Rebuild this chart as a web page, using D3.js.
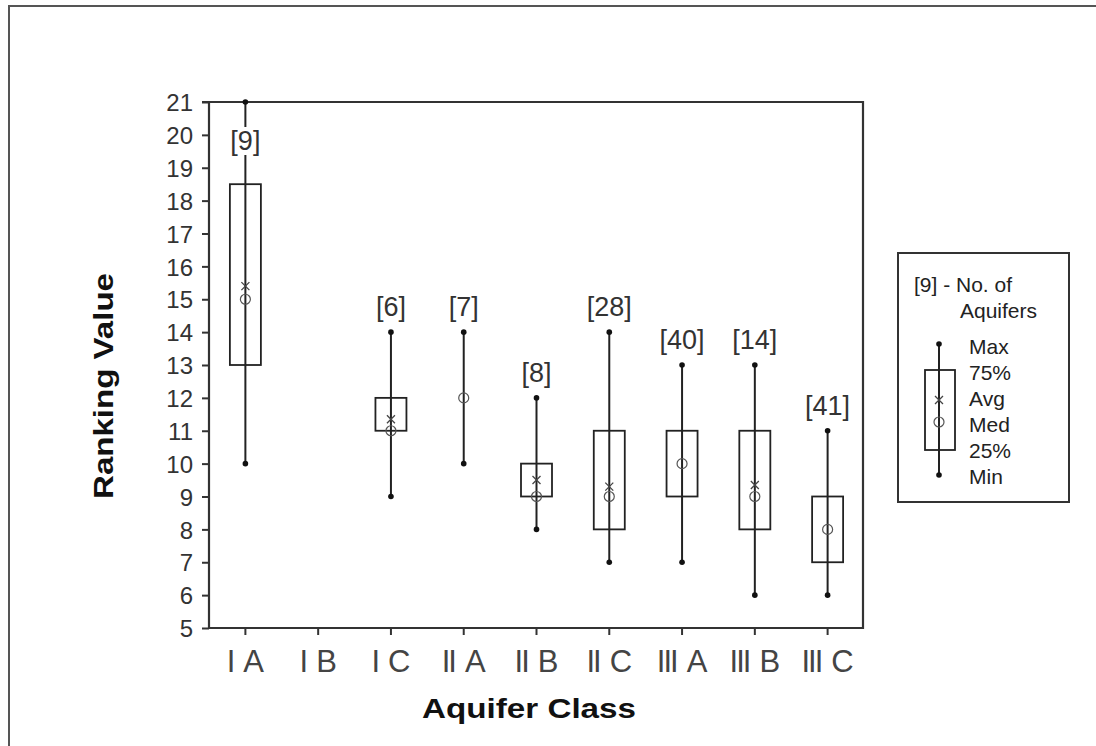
<!DOCTYPE html>
<html>
<head>
<meta charset="utf-8">
<script src="https://cdn.jsdelivr.net/npm/d3@7"></script>
<style>
  body { margin: 0; background: #fff; }
  text { font-family: "Liberation Sans", Arial, sans-serif; }
</style>
</head>
<body>
<div id="chart"></div>
<script>
// data
var classes = ["I A", "I B", "I C", "II A", "II B", "II C", "III A", "III B", "III C"];
var counts  = [9, null, 6, 7, 8, 28, 40, 14, 41];
var mins    = [10, null, 9, 10, 8, 7, 7, 6, 6];
var q1s     = [13, null, 11, 12, 9, 8, 9, 8, 7];
var medians = [15, null, 11, 12, 9, 9, 10, 9, 8];
var avgs    = [15.4, null, 11.35, 12, 9.5, 9.3, 10, 9.35, 8];
var q3s     = [18.5, null, 12, 12, 10, 11, 11, 11, 9];
var maxs    = [21, null, 14, 14, 12, 14, 13, 13, 11];
var yTicks  = d3.range(5, 22);
var legendLabels = ["Max", "75%", "Avg", "Med", "25%", "Min"];

var W = 1096, H = 746;
var plot = {left: 209, top: 102, right: 864, bottom: 628};

var svg = d3.select("#chart").append("svg")
    .attr("width", W)
    .attr("height", H);

// outer frame (only top and left visible)
svg.append("rect")
    .attr("x", 9).attr("y", 6)
    .attr("width", W + 20).attr("height", H + 20)
    .attr("fill", "none")
    .attr("stroke", "#555")
    .attr("stroke-width", 2);

var x = d3.scaleBand().domain(classes).range([plot.left, plot.right]);
var y = d3.scaleLinear().domain([5, 21]).range([plot.bottom, plot.top]);

var rows = classes.map(function(c, i) {
  return {cls: c, n: counts[i], min: mins[i], q1: q1s[i], med: medians[i],
          avg: avgs[i], q3: q3s[i], max: maxs[i]};
}).filter(function(d) { return d.n != null; });

// y axis
var yAxis = d3.axisLeft(y).tickValues(yTicks).tickSize(7).tickPadding(9);
var gy = svg.append("g")
    .attr("transform", "translate(" + plot.left + ",0)")
    .call(yAxis);
gy.select(".domain").remove();
gy.selectAll("line").attr("stroke", "#333").attr("stroke-width", 2);
gy.selectAll("text")
    .style("font-size", "24px")
    .attr("fill", "#333")
    .attr("dy", "0.36em");

// x axis
var xAxis = d3.axisBottom(x).tickSize(7).tickPadding(14).tickFormat("");
var gx = svg.append("g")
    .attr("transform", "translate(0," + plot.bottom + ")")
    .call(xAxis);
gx.select(".domain").remove();
gx.selectAll("line").attr("stroke", "#333").attr("stroke-width", 2);

// x tick labels, roman part squeezed like the original
classes.forEach(function(c) {
  var parts = c.split(" ");
  var t = svg.append("text")
      .attr("x", x(c) + x.bandwidth() / 2)
      .attr("y", 672)
      .attr("text-anchor", "middle")
      .style("font-size", "31px")
      .attr("fill", "#444");
  t.append("tspan").attr("letter-spacing", "-2px").text(parts[0]);
  t.append("tspan").attr("dx", "10").text(parts[1]);
});

// plot frame
svg.append("path")
    .attr("d", "M" + (plot.left - 7) + "," + plot.top + "H" + (plot.right - 1) +
               "V" + plot.bottom + "H" + plot.left + "V" + plot.top)
    .attr("fill", "none")
    .attr("stroke", "#333")
    .attr("stroke-width", 2.2);

// boxes
var boxW = 31;
var g = svg.append("g");
var cx = function(d) { return x(d.cls) + x.bandwidth() / 2; };

function labelY(d) {
  return Math.max(y(d.max) - 26, plot.top + 38);
}

var item = g.selectAll(".item").data(rows).enter().append("g").attr("class", "item");

item.filter(function(d) { return d.q3 > d.q1; }).append("rect")
    .attr("x", function(d) { return cx(d) - boxW / 2; })
    .attr("y", function(d) { return y(d.q3); })
    .attr("width", boxW)
    .attr("height", function(d) { return y(d.q1) - y(d.q3); })
    .attr("fill", "none")
    .attr("stroke", "#222")
    .attr("stroke-width", 1.8);

item.append("line")
    .attr("x1", cx).attr("x2", cx)
    .attr("y1", function(d) { return y(d.max); })
    .attr("y2", function(d) { return y(d.min); })
    .attr("stroke", "#222")
    .attr("stroke-width", 2);

item.selectAll(".end")
    .data(function(d) { return [{c: cx(d), v: d.max}, {c: cx(d), v: d.min}]; })
    .enter().append("circle")
    .attr("cx", function(e) { return e.c; })
    .attr("cy", function(e) { return y(e.v); })
    .attr("r", 2.8)
    .attr("fill", "#111");

// median circle
item.append("circle")
    .attr("cx", cx)
    .attr("cy", function(d) { return y(d.med); })
    .attr("r", 5)
    .attr("fill", "none")
    .attr("stroke", "#555")
    .attr("stroke-width", 1.2);

// average marker (small x)
function xMark(sel, px, py) {
  sel.append("path")
      .attr("d", "M" + (px - 4) + "," + (py - 4) + "L" + (px + 4) + "," + (py + 4) +
                 "M" + (px + 4) + "," + (py - 4) + "L" + (px - 4) + "," + (py + 4))
      .attr("stroke", "#444")
      .attr("stroke-width", 1.3);
}
item.each(function(d) {
  if (Math.abs(d.avg - d.med) > 0.05) xMark(d3.select(this), cx(d), y(d.avg));
});

// count labels
item.append("rect")
    .attr("x", function(d) { return cx(d) - 16; })
    .attr("y", function(d) { return labelY(d) - 13; })
    .attr("width", 32).attr("height", 28)
    .attr("fill", "#fff");
item.append("text")
    .attr("x", cx)
    .attr("y", function(d) { return labelY(d) + 10; })
    .attr("text-anchor", "middle")
    .style("font-size", "27px")
    .attr("fill", "#333")
    .text(function(d) { return "[" + d.n + "]"; });

// axis titles
svg.append("text")
    .attr("transform", "translate(113,386) rotate(-90)")
    .attr("text-anchor", "middle")
    .attr("textLength", 226)
    .attr("lengthAdjust", "spacingAndGlyphs")
    .style("font-size", "27px")
    .style("font-weight", "bold")
    .attr("fill", "#111")
    .text("Ranking Value");

svg.append("text")
    .attr("x", 529)
    .attr("y", 718)
    .attr("text-anchor", "middle")
    .attr("textLength", 214)
    .attr("lengthAdjust", "spacingAndGlyphs")
    .style("font-size", "27px")
    .style("font-weight", "bold")
    .attr("fill", "#111")
    .text("Aquifer Class");

// legend
var lg = svg.append("g");
lg.append("rect")
    .attr("x", 898).attr("y", 253)
    .attr("width", 171).attr("height", 249)
    .attr("fill", "#fff")
    .attr("stroke", "#333")
    .attr("stroke-width", 2);
lg.append("text").attr("x", 914).attr("y", 292)
    .style("font-size", "21px").attr("fill", "#222").text("[9] - No. of");
lg.append("text").attr("x", 960).attr("y", 318)
    .style("font-size", "21px").attr("fill", "#222").text("Aquifers");

var lx = 939;
lg.append("rect")
    .attr("x", lx - 14).attr("y", 370)
    .attr("width", 30).attr("height", 80)
    .attr("fill", "none").attr("stroke", "#222").attr("stroke-width", 1.8);
lg.append("line")
    .attr("x1", lx).attr("x2", lx).attr("y1", 344).attr("y2", 475)
    .attr("stroke", "#222").attr("stroke-width", 2);
[344, 475].forEach(function(v) {
  lg.append("circle").attr("cx", lx).attr("cy", v).attr("r", 2.8).attr("fill", "#111");
});
lg.append("circle").attr("cx", lx).attr("cy", 422).attr("r", 5)
    .attr("fill", "none").attr("stroke", "#555").attr("stroke-width", 1.2);
xMark(lg, lx, 400);

lg.selectAll(".ll").data(legendLabels).enter().append("text")
    .attr("x", 969)
    .attr("y", function(d, i) { return 354 + i * 26; })
    .style("font-size", "21px")
    .attr("fill", "#222")
    .text(function(d) { return d; });
</script>
</body>
</html>
